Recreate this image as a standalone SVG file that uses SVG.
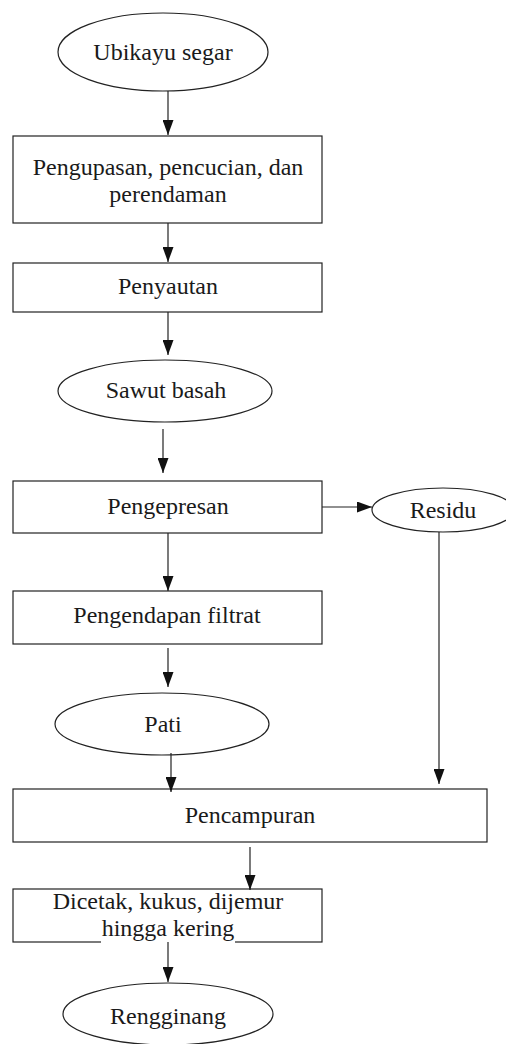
<svg xmlns="http://www.w3.org/2000/svg" width="506" height="1044" viewBox="0 0 506 1044">
<style>
.s{fill:#fff;stroke:#222;stroke-width:1.2}
.t{font-family:"Liberation Serif","Times New Roman",serif;font-size:24px;fill:#1a1a1a;text-anchor:middle}
.c{fill:none;stroke:#222;stroke-width:1.2}
</style>
<defs>
<marker id="a" viewBox="0 0 15 11" refX="15" refY="5.5" markerWidth="15" markerHeight="11" markerUnits="userSpaceOnUse" orient="auto">
<path d="M0,0 L15,5.5 L0,11 z" fill="#111"/>
</marker>
</defs>
<rect width="506" height="1044" fill="#fff"/>
<g id="n1"><ellipse class="s" cx="163" cy="52" rx="105" ry="39"/><text class="t" x="163" y="60">Ubikayu segar</text></g>
<g id="n2"><rect class="s" x="13" y="136" width="309" height="87"/><text class="t" x="168" y="175">Pengupasan, pencucian, dan</text><text class="t" x="168" y="202">perendaman</text></g>
<g id="n3"><rect class="s" x="13" y="263" width="309" height="49"/><text class="t" x="168" y="294">Penyautan</text></g>
<g id="n4"><ellipse class="s" cx="165" cy="391" rx="107" ry="31"/><text class="t" x="166" y="398">Sawut basah</text></g>
<g id="n5"><rect class="s" x="13" y="481" width="309" height="52"/><text class="t" x="168" y="514">Pengepresan</text></g>
<g id="n6"><ellipse class="s" cx="443" cy="510" rx="71" ry="22"/><text class="t" x="443" y="518">Residu</text></g>
<g id="n7"><rect class="s" x="13" y="591" width="309" height="53"/><text class="t" x="167" y="623">Pengendapan filtrat</text></g>
<g id="n8"><ellipse class="s" cx="162" cy="724" rx="107" ry="31"/><text class="t" x="163" y="732">Pati</text></g>
<g id="n9"><rect class="s" x="13" y="789" width="474" height="53"/><text class="t" x="250" y="823">Pencampuran</text></g>
<g id="n10"><rect class="s" x="13" y="889" width="309" height="53"/><rect x="101" y="915" width="134" height="29" fill="#fff"/><text class="t" x="168" y="909">Dicetak, kukus, dijemur</text><text class="t" x="168" y="936">hingga kering</text></g>
<g id="n11"><ellipse class="s" cx="168" cy="1014" rx="105" ry="31"/><text class="t" x="168" y="1024">Rengginang</text></g>
<g id="connectors">
<line class="c" x1="168" y1="91" x2="168" y2="135" marker-end="url(#a)"/>
<line class="c" x1="168" y1="223" x2="168" y2="262" marker-end="url(#a)"/>
<line class="c" x1="168" y1="312" x2="168" y2="355" marker-end="url(#a)"/>
<line class="c" x1="163" y1="429" x2="163" y2="473" marker-end="url(#a)"/>
<line class="c" x1="322" y1="507" x2="372" y2="507" marker-end="url(#a)"/>
<line class="c" x1="168" y1="533" x2="168" y2="591" marker-end="url(#a)"/>
<line class="c" x1="168" y1="648" x2="168" y2="687" marker-end="url(#a)"/>
<line class="c" x1="439" y1="532" x2="439" y2="784" marker-end="url(#a)"/>
<line class="c" x1="171" y1="753" x2="171" y2="792" marker-end="url(#a)"/>
<line class="c" x1="250" y1="847" x2="250" y2="890" marker-end="url(#a)"/>
<line class="c" x1="168" y1="942" x2="168" y2="982" marker-end="url(#a)"/>
</g>
</svg>
